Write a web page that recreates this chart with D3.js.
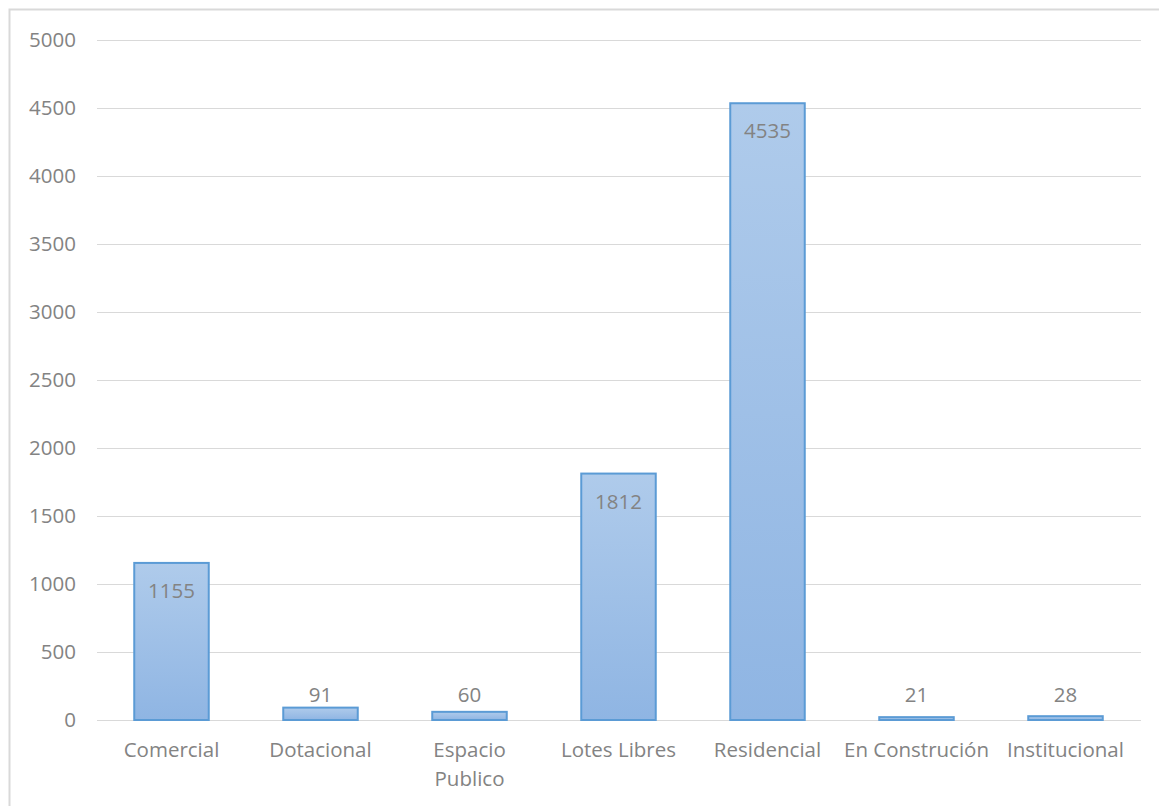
<!DOCTYPE html>
<html>
<head lang="es">
    <meta charset="UTF-8">
    <title>Usos</title>
    <script src="https://cdnjs.cloudflare.com/ajax/libs/d3/7.8.5/d3.min.js"></script>
    <style>
        body { margin: 0; background: #fff; }
        text { font-family: "Open Sans", "Noto Sans", sans-serif; fill: #838383; }
    </style>
</head>
<body>

<script>

    // values
    var categories = ["Comercial", "Dotacional", "Espacio Publico", "Lotes Libres", "Residencial", "En Construción", "Institucional"];
    var tickLines = [["Comercial"], ["Dotacional"], ["Espacio", "Publico"], ["Lotes Libres"], ["Residencial"], ["En Construción"], ["Institucional"]];
    var values = [1155, 91, 60, 1812, 4535, 21, 28];
    var yTicks = [0, 500, 1000, 1500, 2000, 2500, 3000, 3500, 4000, 4500, 5000];

    var width = 1159;
    var height = 806;
    // plot area edges (window.top is read-only, so no plain "top")
    var plotL = 97, plotR = 1141, plotT = 40, plotB = 720;
    var fontSize = 20.5;

    var svg = d3.select("body")
            .append("svg")
            .attr("width", width)
            .attr("height", height);

    // chart frame, runs off the right and bottom of the picture
    svg.append("rect")
            .attr("x", 9.5)
            .attr("y", 9.5)
            .attr("width", 1200)
            .attr("height", 900)
            .attr("fill", "none")
            .attr("stroke", "#d9d9d9")
            .attr("stroke-width", 2);

    var grad = svg.append("defs").append("linearGradient")
            .attr("id", "barFill")
            .attr("x1", 0).attr("y1", 0).attr("x2", 0).attr("y2", 1);
    grad.append("stop").attr("offset", "0%").attr("stop-color", "#afcbeb");
    grad.append("stop").attr("offset", "100%").attr("stop-color", "#8fb5e3");

    var x = d3.scaleBand()
            .domain(categories)
            .range([plotL, plotR - 1])
            .paddingInner(0.5)
            .paddingOuter(0.25);

    var y = d3.scaleLinear()
            .domain([0, 5000])
            .range([plotB, plotT]);

    // gridlines + y labels
    var yAxis = svg.append("g")
            .attr("transform", "translate(" + plotL + ",0)")
            .call(d3.axisLeft(y)
                .tickValues(yTicks)
                .tickFormat(d3.format("d"))
                .tickSize(-(plotR - plotL))
                .tickPadding(21));
    yAxis.select(".domain").remove();
    yAxis.selectAll(".tick line").attr("stroke", "#d9d9d9");
    yAxis.selectAll(".tick text")
            .attr("font-size", fontSize)
            .attr("fill", null);
    yAxis.attr("font-family", null).attr("font-size", null);

    // x labels
    var xAxis = svg.append("g")
            .attr("transform", "translate(0," + plotB + ")")
            .call(d3.axisBottom(x).tickSize(0).tickFormat(""));
    xAxis.select(".domain").remove();
    xAxis.selectAll(".tick text").remove();
    xAxis.attr("font-family", null).attr("font-size", null);
    xAxis.selectAll(".tick")
            .append("text")
            .attr("text-anchor", "middle")
            .attr("font-size", fontSize)
            .selectAll("tspan")
            .data(function(d, i){ return tickLines[i]; })
            .enter()
            .append("tspan")
            .attr("x", 0)
            .attr("y", function(d, i){ return 37 + i * 29; })
            .text(function(d){ return d; });

    // bars
    svg.selectAll("rect.bar")
            .data(values)
            .enter()
            .append("rect")
            .attr("class", "bar")
            .attr("x", function(d, i){ return x(categories[i]); })
            .attr("y", function(d){ return y(d); })
            .attr("width", x.bandwidth())
            .attr("height", function(d){ return plotB - y(d); })
            .attr("fill", "url(#barFill)")
            .attr("stroke", "#5b9bd5")
            .attr("stroke-width", 2);

    // value labels: inside the top of tall bars, above short ones
    // (short ones never sit lower than 18px above the axis, like Excel does)
    svg.selectAll("text.val")
            .data(values)
            .enter()
            .append("text")
            .attr("class", "val")
            .attr("text-anchor", "middle")
            .attr("font-size", fontSize)
            .attr("x", function(d, i){ return x(categories[i]) + x.bandwidth() / 2; })
            .attr("y", function(d){
                var h = plotB - y(d);
                return h > 40 ? y(d) + 35 : Math.min(y(d) - 5, plotB - 18);
            })
            .text(function(d){ return d; });

</script>

</body>
</html>
